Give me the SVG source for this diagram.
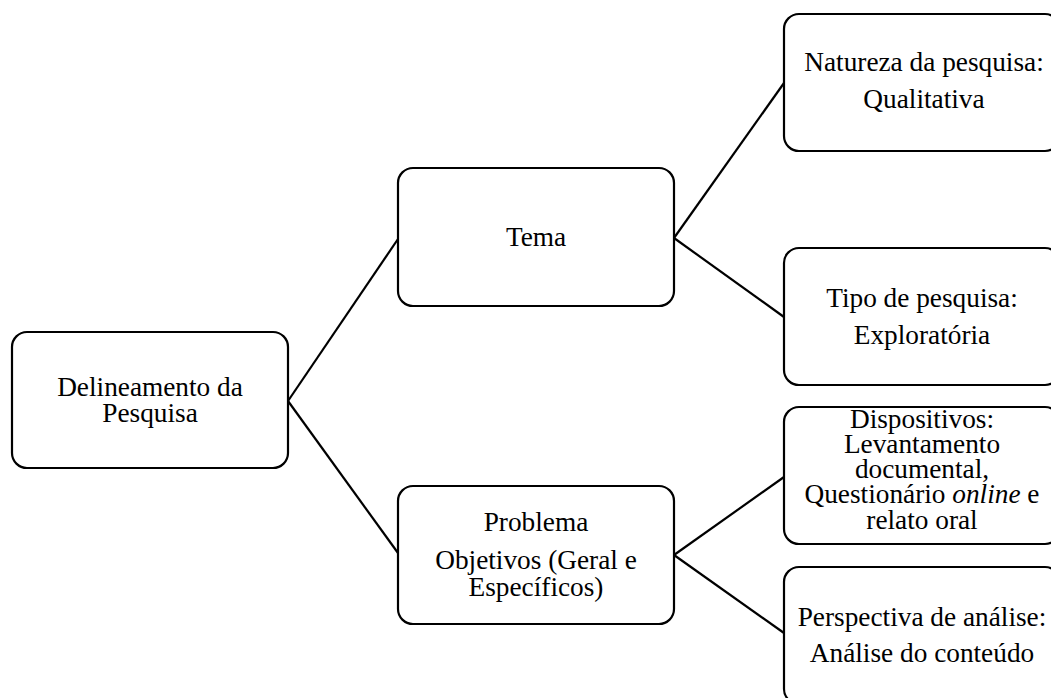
<svg xmlns="http://www.w3.org/2000/svg" width="1051" height="698" viewBox="0 0 1051 698">
<style>
.box{fill:#fff;stroke:#000;stroke-width:2.2}
.lbl{font-family:"Liberation Serif","Times New Roman",serif;font-size:27.3px;fill:#000;text-anchor:middle}
.conn{stroke:#000;stroke-width:2.2;fill:none}
</style>
<rect width="1051" height="698" fill="#fff"/>
<g id="connectors">
<line class="conn" x1="288" y1="401" x2="398" y2="239"/>
<line class="conn" x1="288" y1="401" x2="398" y2="553"/>
<line class="conn" x1="674" y1="238" x2="784" y2="83"/>
<line class="conn" x1="674" y1="238" x2="784" y2="317"/>
<line class="conn" x1="674" y1="555" x2="784" y2="477"/>
<line class="conn" x1="674" y1="555" x2="784" y2="633"/>
</g>
<g id="n-delineamento">
<rect class="box" x="12" y="332" width="276" height="136" rx="15"/>
<text class="lbl" x="150" y="396">Delineamento da</text>
<text class="lbl" x="150" y="422">Pesquisa</text>
</g>
<g id="n-tema">
<rect class="box" x="398" y="168" width="276" height="138" rx="15"/>
<text class="lbl" x="536" y="246">Tema</text>
</g>
<g id="n-problema">
<rect class="box" x="398" y="486" width="276" height="138" rx="15"/>
<text class="lbl" x="536" y="531">Problema</text>
<text class="lbl" x="536" y="569">Objetivos (Geral e</text>
<text class="lbl" x="536" y="596">Específicos)</text>
</g>
<g id="n-natureza">
<rect class="box" x="784" y="14" width="276" height="137" rx="15"/>
<text class="lbl" x="924" y="71">Natureza da pesquisa:</text>
<text class="lbl" x="924" y="108">Qualitativa</text>
</g>
<g id="n-tipo">
<rect class="box" x="784" y="248" width="276" height="137" rx="15"/>
<text class="lbl" x="922" y="307">Tipo de pesquisa:</text>
<text class="lbl" x="922" y="344">Exploratória</text>
</g>
<g id="n-dispositivos">
<rect class="box" x="784" y="407" width="276" height="137" rx="15"/>
<text class="lbl" x="922" y="428">Dispositivos:</text>
<text class="lbl" x="922" y="453">Levantamento</text>
<text class="lbl" x="922" y="478">documental,</text>
<text class="lbl" x="922" y="503">Questionário <tspan font-style="italic">online</tspan> e</text>
<text class="lbl" x="922" y="529">relato oral</text>
</g>
<g id="n-perspectiva">
<rect class="box" x="784" y="567" width="276" height="137" rx="15"/>
<text class="lbl" x="922" y="626">Perspectiva de análise:</text>
<text class="lbl" x="922" y="662">Análise do conteúdo</text>
</g>
</svg>
